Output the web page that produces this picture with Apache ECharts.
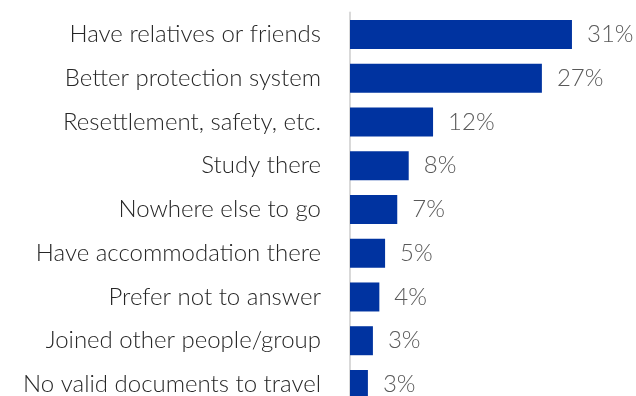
<!DOCTYPE html>
<html>
<head>
<meta charset="utf-8">
<script src="https://cdn.jsdelivr.net/npm/echarts@6/dist/echarts.min.js"></script>
<style>
  html, body { margin: 0; padding: 0; background: #fff; }
  #chart { width: 636px; height: 396px; }
</style>
</head>
<body>
<div id="chart"></div>
<script>
// Reasons for choosing the destination country (share of respondents, %)
var categories = [
  'Have relatives or friends',
  'Better protection system',
  'Resettlement, safety, etc.',
  'Study there',
  'Nowhere else to go',
  'Have accommodation there',
  'Prefer not to answer',
  'Joined other people/group',
  'No valid documents to travel'
];
var shares = [31, 26.8, 11.6, 8.2, 6.6, 4.9, 4.1, 3.2, 2.5];

var chart = echarts.init(document.getElementById('chart'), null, { renderer: 'canvas' });

chart.setOption({
  animation: false,
  backgroundColor: '#ffffff',
  grid: {
    left: 350, top: 12.6, width: 250.6, height: 393.75,
    containLabel: false,
    outerBoundsMode: 'none'
  },
  xAxis: {
    type: 'value',
    min: 0,
    max: 35,
    show: false
  },
  yAxis: {
    type: 'category',
    data: categories,
    inverse: true,
    axisLine: { show: true, lineStyle: { color: '#d9d9d9', width: 2 } },
    axisTick: { show: false },
    axisLabel: {
      margin: 29,
      color: '#262626',
      fontFamily: 'Lato',
      fontWeight: 300,
      fontSize: 24
    },
    splitLine: { show: false }
  },
  series: [{
    type: 'bar',
    data: shares,
    barWidth: 29,
    itemStyle: { color: '#0033a0' },
    label: {
      show: true,
      position: 'right',
      distance: 15,
      color: '#595959',
      fontFamily: 'Lato',
      fontWeight: 300,
      fontSize: 24,
      formatter: function (p) { return Math.round(p.value) + '%'; }
    }
  }]
});
</script>
</body>
</html>
